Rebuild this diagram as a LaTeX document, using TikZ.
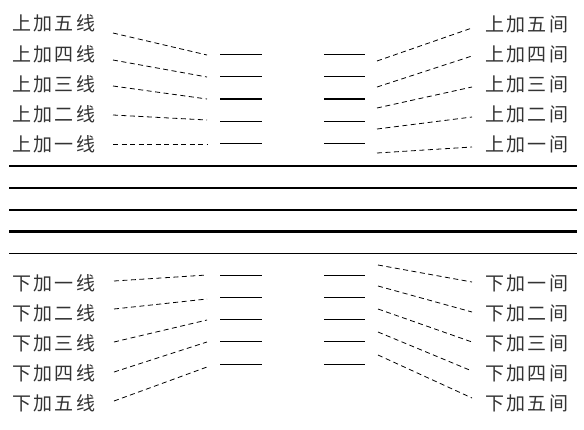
\documentclass[tikz,border=0pt]{standalone}
\usepackage{fontspec}
\newfontfamily\cjk[LetterSpace=12]{Noto Sans CJK SC}
\begin{document}
\begin{tikzpicture}[x=1pt,y=-1pt,
  lab/.style={font=\cjk\fontsize{19}{19}\selectfont, text=black!80, inner sep=0pt, anchor=west},
  staffline/.style={line width=1.1pt},
  thickline/.style={line width=2.2pt},
  ledger/.style={line width=1pt},
  ledgerthick/.style={line width=2pt},
  guide/.style={line width=0.8pt, dash pattern=on 5pt off 3.5pt}]
\useasboundingbox (0,0) rectangle (584,429);
% staff
\foreach \y/\s in {166/staffline,188/staffline,210/staffline,231.5/thickline,253.5/staffline}{
  \draw[\s] (9,\y) coordinate (sl\y) -- (577,\y) coordinate (sr\y);
}
% upper ledger lines
\foreach \i/\y/\s in {1/143.5/ledger,2/121/ledger,3/98.5/ledgerthick,4/76/ledger,5/54/ledger}{
  \draw[\s] (220,\y) coordinate (ula\i) -- (262,\y);
  \draw[\s] (324,\y) -- (365,\y) coordinate (urb\i);
}
% lower ledger lines
\foreach \i/\y in {1/275,2/297,3/319,4/341,5/364}{
  \draw[ledger] (220,\y) coordinate (lla\i) -- (262,\y);
  \draw[ledger] (324,\y) -- (365,\y) coordinate (lrb\i);
}
% upper left labels
\node[lab] (ul5) at (12,23) {上加五线};
\node[lab] (ul4) at (12,54) {上加四线};
\node[lab] (ul3) at (12,84) {上加三线};
\node[lab] (ul2) at (12,114) {上加二线};
\node[lab] (ul1) at (12,144) {上加一线};
% upper right labels
\node[lab] (ur5) at (485,24) {上加五间};
\node[lab] (ur4) at (485,54) {上加四间};
\node[lab] (ur3) at (485,84) {上加三间};
\node[lab] (ur2) at (485,114) {上加二间};
\node[lab] (ur1) at (485,144) {上加一间};
% lower left labels
\node[lab] (ll1) at (12,283) {下加一线};
\node[lab] (ll2) at (12,313) {下加二线};
\node[lab] (ll3) at (12,343) {下加三线};
\node[lab] (ll4) at (12,373) {下加四线};
\node[lab] (ll5) at (12,403) {下加五线};
% lower right labels
\node[lab] (lr1) at (485,283) {下加一间};
\node[lab] (lr2) at (485,313) {下加二间};
\node[lab] (lr3) at (485,343) {下加三间};
\node[lab] (lr4) at (485,373) {下加四间};
\node[lab] (lr5) at (485,403) {下加五间};
% upper left guides
\coordinate (a5) at (113,33);  \coordinate (b5) at (207,55);
\coordinate (a4) at (113,60);  \coordinate (b4) at (207,77);
\coordinate (a3) at (113,86);  \coordinate (b3) at (207,99);
\coordinate (a2) at (113,115); \coordinate (b2) at (207,120);
\coordinate (a1) at (113,144); \coordinate (b1) at (207,144);
\foreach \i in {1,...,5}{\draw[guide] (a\i) -- (b\i);}
% upper right guides
\coordinate (c5) at (377,61);  \coordinate (d5) at (472,28);
\coordinate (c4) at (377,87);  \coordinate (d4) at (472,56);
\coordinate (c3) at (377,108); \coordinate (d3) at (472,87);
\coordinate (c2) at (377,129); \coordinate (d2) at (472,117);
\coordinate (c1) at (377,153); \coordinate (d1) at (472,147);
\foreach \i in {1,...,5}{\draw[guide] (c\i) -- (d\i);}
% lower left guides
\coordinate (e1) at (114,281); \coordinate (f1) at (207,275);
\coordinate (e2) at (114,309); \coordinate (f2) at (207,299);
\coordinate (e3) at (114,342); \coordinate (f3) at (207,320);
\coordinate (e4) at (114,372); \coordinate (f4) at (207,342);
\coordinate (e5) at (114,401); \coordinate (f5) at (207,367);
\foreach \i in {1,...,5}{\draw[guide] (e\i) -- (f\i);}
% lower right guides
\coordinate (g1) at (378,265); \coordinate (h1) at (472,282);
\coordinate (g2) at (378,286); \coordinate (h2) at (472,312);
\coordinate (g3) at (378,309); \coordinate (h3) at (472,342);
\coordinate (g4) at (378,332); \coordinate (h4) at (472,371);
\coordinate (g5) at (378,355); \coordinate (h5) at (472,398);
\foreach \i in {1,...,5}{\draw[guide] (g\i) -- (h\i);}
\end{tikzpicture}
\end{document}
